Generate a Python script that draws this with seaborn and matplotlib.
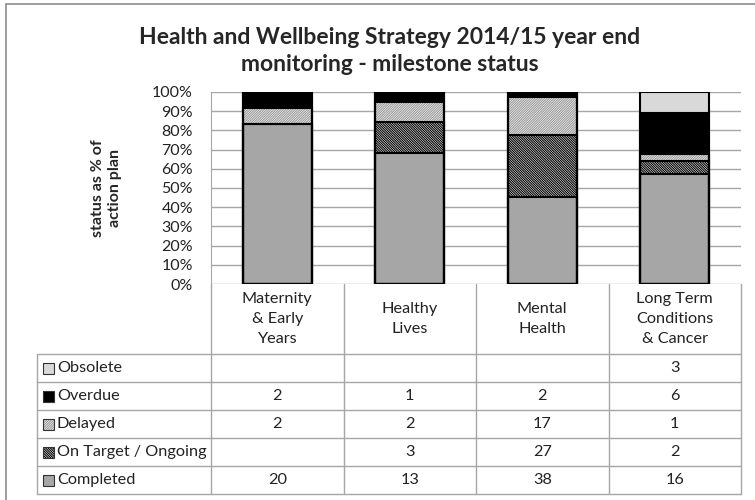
import numpy as np
import matplotlib
matplotlib.use('Agg')
import matplotlib.pyplot as plt
import seaborn as sns
from matplotlib.patches import Rectangle

# 数据
categories = ['Maternity\n& Early\nYears', 'Healthy\nLives', 'Mental\nHealth',
              'Long Term\nConditions\n& Cancer']
series = ['Completed', 'On Target / Ongoing', 'Delayed', 'Overdue', 'Obsolete']
completed = [20, 13, 38, 16]
on_target = [0, 3, 27, 2]
delayed = [2, 2, 17, 1]
overdue = [2, 1, 2, 6]
obsolete = [0, 0, 0, 3]
y_ticks = [0, 10, 20, 30, 40, 50, 60, 70, 80, 90, 100]

sns.set_style('white')
plt.rcParams['font.family'] = ['Lato', 'DejaVu Sans']
plt.rcParams['hatch.linewidth'] = 0.8

# 样式: 填充色, 阴影, 阴影颜色
styles = {
    'Completed': ('#a6a6a6', '', '#a6a6a6'),
    'On Target / Ongoing': ('white', '\\' * 14, 'black'),
    'Delayed': ('white', '/' * 14, '#9a9a9a'),
    'Overdue': ('black', '', 'black'),
    'Obsolete': ('#d9d9d9', '', '#d9d9d9'),
}

values = np.array([completed, on_target, delayed, overdue, obsolete], dtype=float)
pct = values / values.sum(axis=0) * 100
cum = np.cumsum(pct, axis=0)

fig = plt.figure(figsize=(7.55, 5.0), dpi=100)
W, H = 755, 500
ax = fig.add_axes([211 / W, 1 - 284 / H, 530 / W, 192 / H])

xs = list(range(len(categories)))
bar_w = 0.52
# 从最高的累计值往下画, 后画的覆盖前画的
for i in reversed(range(len(series))):
    fc, hatch, hc = styles[series[i]]
    sns.barplot(x=xs, y=cum[i], ax=ax, color=fc, width=bar_w, errorbar=None,
                saturation=1, edgecolor=hc, linewidth=0, hatch=hatch,
                native_scale=True)
# 黑色边框
for i in reversed(range(len(series))):
    sns.barplot(x=xs, y=cum[i], ax=ax, width=bar_w, errorbar=None, fill=False,
                edgecolor='black', linewidth=1.5, native_scale=True)

ax.set_xlim(-0.5, 3.5)
ax.set_ylim(0, 100)
ax.set_yticks(y_ticks)
ax.set_yticklabels([f'{t}%' for t in y_ticks], fontsize=11.5, color='#222222')
ax.set_xticks([])
ax.set_xlabel('')
ax.yaxis.grid(True, color='#a6a6a6', linewidth=1)
ax.set_axisbelow(True)
for s in ['top', 'right', 'bottom']:
    ax.spines[s].set_visible(False)
ax.spines['left'].set_color('#a6a6a6')
ax.tick_params(axis='y', length=0, pad=13)
ax.set_ylabel('status as % of\naction plan', fontsize=11.5, fontweight='bold',
              linespacing=1.25)
ax.yaxis.set_label_coords(-0.168, 0.5)

fig.text(390 / W, 1 - 51 / H,
         'Health and Wellbeing Strategy 2014/15 year end\nmonitoring - milestone status',
         ha='center', va='center', fontsize=16.5, fontweight='bold', linespacing=1.3)

# 数据表
tax = fig.add_axes([37 / W, 1 - 494 / H, 704 / W, 210 / H])
lab_w = 174 / 132.5
x0 = -0.5 - lab_w
tax.set_xlim(x0, 3.5)
tax.set_ylim(0, 7.5)
tax.axis('off')
gc = '#a6a6a6'
for r in range(6):
    tax.plot([x0, 3.5], [r, r], color=gc, lw=1, clip_on=False)
for xv in [-0.5, 0.5, 1.5, 2.5, 3.5]:
    tax.plot([xv, xv], [0, 7.5], color=gc, lw=1, clip_on=False)
tax.plot([x0, x0], [0, 5], color=gc, lw=1, clip_on=False)

for j, cat in enumerate(categories):
    tax.text(j, 6.25, cat, ha='center', va='center', fontsize=11.7,
             color='#222222', linespacing=1.55)

key_w = 11 / 132.5
key_h = 11 / 28
for i, name in enumerate(series):
    y = i + 0.5
    fc, hatch, hc = styles[name]
    kx = x0 + 6 / 132.5
    tax.add_patch(Rectangle((kx, y - key_h / 2), key_w, key_h,
                            facecolor=fc, edgecolor=hc, hatch=hatch, lw=0))
    tax.add_patch(Rectangle((kx, y - key_h / 2), key_w, key_h,
                            facecolor='none', edgecolor='#333333', lw=0.8))
    tax.text(kx + key_w + 3 / 132.5, y, name, ha='left', va='center',
             fontsize=11.7, color='#222222')
    for j in range(len(categories)):
        v = int(values[i, j])
        if v:
            tax.text(j, y, str(v), ha='center', va='center', fontsize=11.7,
                     color='#222222')

# 外框
fig.patches.append(Rectangle((6 / W, -0.1), 1.2, 1 - 4 / H + 0.1,
                             transform=fig.transFigure, fill=False,
                             edgecolor='#8c8c8c', lw=1.2))

fig.savefig('out.png', dpi=100)
